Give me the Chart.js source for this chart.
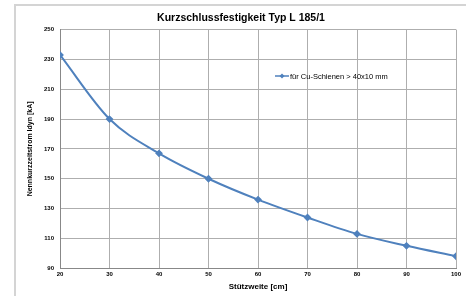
<!DOCTYPE html>
<html>
<head>
<meta charset="utf-8">
<script src="https://cdn.jsdelivr.net/npm/chart.js@4"></script>
<style>
  html, body { margin: 0; padding: 0; background: #fff; }
  #wrap { position: relative; width: 466px; height: 296px; }
</style>
</head>
<body>
<div id="wrap"><canvas id="kurzChart"></canvas></div>
<script>
// data
const spans = [20, 30, 40, 50, 60, 70, 80, 90, 100];
const currents = [233, 190, 167, 150, 136, 124, 113, 105, 98];
const yTicks = [90, 110, 130, 150, 170, 190, 210, 230, 250];
const seriesLabel = "für Cu-Schienen > 40x10 mm";

const lineBlue = "#4f81bd";
const gridGray = "#aeaeae";

// outer frame like the office chart box
const framePlugin = {
  id: "frame",
  beforeDraw(chart) {
    const ctx = chart.ctx;
    ctx.save();
    ctx.strokeStyle = "#d4d4d4";
    ctx.lineWidth = 2;
    ctx.strokeRect(15, 5, 470, 310);
    ctx.restore();
  },
};

// legend sits inside the plot area
const innerLegend = {
  id: "innerLegend",
  afterDatasetsDraw(chart) {
    const ctx = chart.ctx;
    const ds = chart.data.datasets[0];
    const x0 = 275, y0 = 76;
    ctx.save();
    ctx.strokeStyle = ds.borderColor;
    ctx.lineWidth = 1.5;
    ctx.beginPath();
    ctx.moveTo(x0, y0);
    ctx.lineTo(x0 + 14, y0);
    ctx.stroke();
    ctx.fillStyle = ds.borderColor;
    ctx.beginPath();
    ctx.moveTo(x0 + 7, y0 - 2.5);
    ctx.lineTo(x0 + 9.5, y0);
    ctx.lineTo(x0 + 7, y0 + 2.5);
    ctx.lineTo(x0 + 4.5, y0);
    ctx.closePath();
    ctx.fill();
    ctx.fillStyle = "#000";
    ctx.font = "7.5px 'Liberation Sans', Arial, sans-serif";
    ctx.textBaseline = "middle";
    ctx.fillText(ds.label, x0 + 15, y0 + 0.5);
    ctx.restore();
  },
};

const ctx = document.getElementById("kurzChart").getContext("2d");
const kurzChart = new Chart(ctx, {
  type: "line",
  data: {
    labels: spans,
    datasets: [
      {
        label: seriesLabel,
        data: spans.map((s, i) => ({ x: s, y: currents[i] })),
        borderColor: lineBlue,
        backgroundColor: lineBlue,
        borderWidth: 2,
        pointStyle: "rectRot",
        pointRadius: 2.5,
        cubicInterpolationMode: "monotone",
        fill: false,
      },
    ],
  },
  options: {
    responsive: true,
    maintainAspectRatio: false,
    animation: false,
    layout: { padding: { top: 8, right: 10, left: 26, bottom: 4 } },
    plugins: {
      legend: { display: false },
      tooltip: { enabled: false },
      title: {
        display: true,
        text: "Kurzschlussfestigkeit Typ L 185/1",
        color: "#000",
        font: { family: "'Liberation Sans', Arial, sans-serif", size: 10.5, weight: "bold" },
        padding: { top: 4, bottom: 5 },
      },
    },
    scales: {
      x: {
        type: "linear",
        min: 20,
        max: 100,
        ticks: {
          stepSize: 10,
          color: "#000",
          padding: 3,
          font: { family: "'Liberation Sans', Arial, sans-serif", size: 6, weight: "bold" },
        },
        grid: { color: gridGray, tickLength: 0 },
        border: { color: "#888" },
        title: {
          display: true,
          text: "Stützweite [cm]",
          color: "#000",
          padding: { top: 1, bottom: 0 },
          font: { family: "'Liberation Sans', Arial, sans-serif", size: 8, weight: "bold" },
        },
      },
      y: {
        min: yTicks[0],
        max: yTicks[yTicks.length - 1],
        afterBuildTicks(scale) {
          scale.ticks = yTicks.map((v) => ({ value: v }));
        },
        afterFit(scale) {
          scale.width = 34;
        },
        ticks: {
          color: "#000",
          padding: 6,
          font: { family: "'Liberation Sans', Arial, sans-serif", size: 6, weight: "bold" },
        },
        grid: { color: gridGray, tickLength: 0 },
        border: { color: "#888" },
        title: {
          display: true,
          text: "Nennkurzzeitstrom Idyn [kA]",
          color: "#000",
          padding: 0,
          font: { family: "'Liberation Sans', Arial, sans-serif", size: 7, weight: "bold" },
        },
      },
    },
  },
  plugins: [framePlugin, innerLegend],
});
</script>
</body>
</html>
